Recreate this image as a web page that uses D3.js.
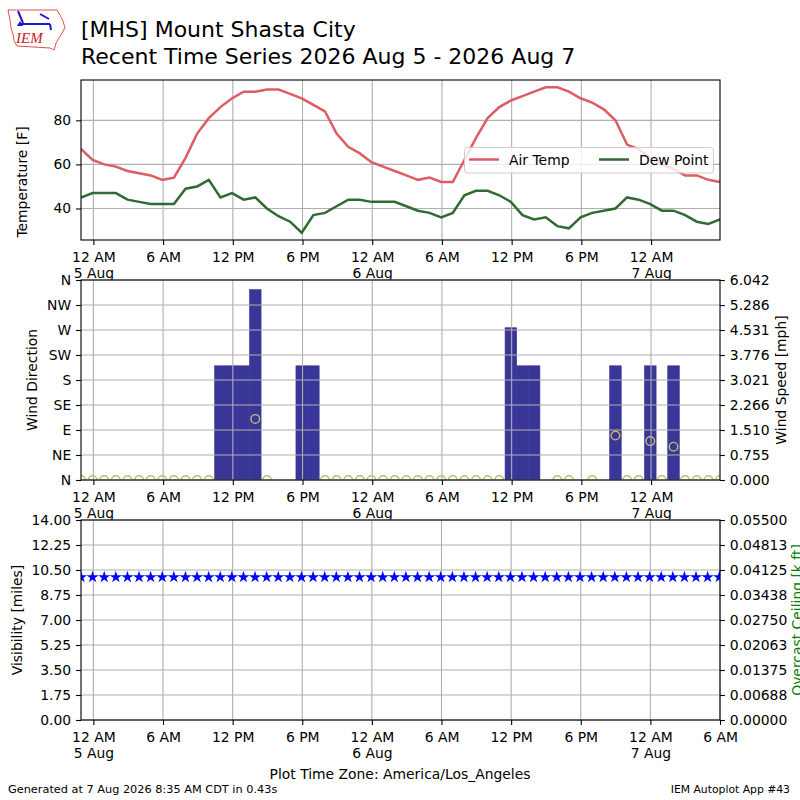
<!DOCTYPE html>
<html>
<head>
<meta charset="utf-8">
<script src="https://cdn.jsdelivr.net/npm/d3@7"></script>
<style>
body { margin: 0; background: #fff; }
svg { display: block; font-family: "DejaVu Sans", sans-serif; }
</style>
</head>
<body>
<div id="chart"></div>
<script>
(function() {
"use strict"

// hourly observations, local time (America/Los_Angeles)
var obsTimes = [
    "2026-08-04 22:56", "2026-08-04 23:56",
    "2026-08-05 00:56", "2026-08-05 01:56", "2026-08-05 02:56", "2026-08-05 03:56",
    "2026-08-05 04:56", "2026-08-05 05:56", "2026-08-05 06:56", "2026-08-05 07:56",
    "2026-08-05 08:56", "2026-08-05 09:56", "2026-08-05 10:56", "2026-08-05 11:56",
    "2026-08-05 12:56", "2026-08-05 13:56", "2026-08-05 14:56", "2026-08-05 15:56",
    "2026-08-05 16:56", "2026-08-05 17:56", "2026-08-05 18:56", "2026-08-05 19:56",
    "2026-08-05 20:56", "2026-08-05 21:56", "2026-08-05 22:56", "2026-08-05 23:56",
    "2026-08-06 00:56", "2026-08-06 01:56", "2026-08-06 02:56", "2026-08-06 03:56",
    "2026-08-06 04:56", "2026-08-06 05:56", "2026-08-06 06:56", "2026-08-06 07:56",
    "2026-08-06 08:56", "2026-08-06 09:56", "2026-08-06 10:56", "2026-08-06 11:56",
    "2026-08-06 12:56", "2026-08-06 13:56", "2026-08-06 14:56", "2026-08-06 15:56",
    "2026-08-06 16:56", "2026-08-06 17:56", "2026-08-06 18:56", "2026-08-06 19:56",
    "2026-08-06 20:56", "2026-08-06 21:56", "2026-08-06 22:56", "2026-08-06 23:56",
    "2026-08-07 00:56", "2026-08-07 01:56", "2026-08-07 02:56", "2026-08-07 03:56",
    "2026-08-07 04:56", "2026-08-07 05:56"
];
var airTemp = [67, 62, 60, 59, 57, 56, 55, 53, 54, 63, 74, 81, 86, 90, 93, 93,
    94, 94, 92, 90, 87, 84, 74, 68, 65, 61, 59, 57, 55, 53, 54, 52,
    52, 62, 72, 81, 86, 89, 91, 93, 95, 95, 93, 90, 88, 85, 80, 69,
    67, 63, 60, 58, 55, 55, 53, 52];
var dewPoint = [45, 47, 47, 47, 44, 43, 42, 42, 42, 49, 50, 53, 45, 47, 44, 45,
    40, 36.5, 34, 29, 37, 38, 41, 44, 44, 43, 43, 43, 41, 39, 38, 36,
    38, 46, 48, 48, 46, 43, 37, 35, 36, 32, 31, 36, 38, 39, 40, 45,
    44, 42, 39, 39, 37, 34, 33, 35];
// wind speed [mph], null = missing
var windSpeed = [0, 0, 0, 0, 0, 0, 0, 0, 0, 0, 0, 0, 3.45, 3.45, 3.45, 5.75,
    0, null, null, 3.45, 3.45, 0, 0, 0, 0, 0, 0, 0, 0, 0, 0, 0,
    0, 0, 0, 0, 0, 4.60, 3.45, 3.45, null, 0, 0, null, 0, null, 3.45, 0,
    0, 3.45, 0, 3.45, 0, 0, 0, 0];
// wind direction [deg], null = missing / variable
var windDir = [0, 0, 0, 0, 0, 0, 0, 0, 0, 0, 0, 0, null, null, null, 110,
    0, null, null, null, null, 0, 0, 0, 0, 0, 0, 0, 0, 0, 0, 0,
    0, 0, 0, 0, 0, null, null, null, null, 0, 0, null, 0, null, 80, 0,
    0, 70, 0, 60, 0, 0, 0, 0];
var visibility = [10, 10, 10, 10, 10, 10, 10, 10, 10, 10, 10, 10, 10, 10, 10, 10,
    10, 10, 10, 10, 10, 10, 10, 10, 10, 10, 10, 10, 10, 10, 10, 10,
    10, 10, 10, 10, 10, 10, 10, 10, 10, 10, 10, 10, 10, 10, 10, 10,
    10, 10, 10, 10, 10, 10, 10, 10];

var tempTicks = [40, 60, 80];
var dirTicks = [0, 45, 90, 135, 180, 225, 270, 315, 360];
var dirLabels = ["N", "NE", "E", "SE", "S", "SW", "W", "NW", "N"];
var speedTicks = [0, 0.755, 1.510, 2.266, 3.021, 3.776, 4.531, 5.286, 6.042];
var visTicks = [0, 1.75, 3.5, 5.25, 7, 8.75, 10.5, 12.25, 14];
var ceilTicks = [0, 0.006875, 0.01375, 0.020625, 0.0275, 0.034375, 0.04125, 0.048125, 0.055];
var ceilTickLabels = ["0.00000", "0.00688", "0.01375", "0.02063", "0.02750",
    "0.03438", "0.04125", "0.04813", "0.05500"];

var width = 800, height = 800;
var left = 81, right = 720;
var fontSize = 13.9;
var tickLen = 4.9;

var parse = d3.utcParse("%Y-%m-%d %H:%M");
var times = obsTimes.map(parse);

var svg = d3.select("#chart").append("svg")
    .attr("width", width)
    .attr("height", height);
svg.append("rect").attr("width", width).attr("height", height).attr("fill", "white");

// time scales (local time treated as UTC so the browser zone does not matter)
var x = d3.scaleUtc().domain(d3.extent(times)).range([left, right]);
var xBottom = d3.scaleUtc().domain([times[0], parse("2026-08-07 06:00")]).range([left, right]);

var styleAxis = function(ax) {
    ax.attr("font-family", "DejaVu Sans").attr("font-size", fontSize);
    ax.select(".domain").remove();
    ax.selectAll(".tick line").attr("stroke", "#000").attr("stroke-width", 1.1);
    ax.selectAll(".tick text").attr("fill", "#000");
};

var makePanel = function(id, top, bottom) {
    //white background and clip region
    var g = svg.append("g");
    g.append("rect")
        .attr("x", left).attr("y", top)
        .attr("width", right - left).attr("height", bottom - top)
        .attr("fill", "white");
    svg.append("clipPath").attr("id", id)
        .append("rect")
        .attr("x", left).attr("y", top)
        .attr("width", right - left).attr("height", bottom - top);
    return g;
};

var grid = function(g, xs, ys, ticks, top, bottom) {
    //vertical grid on the 6 hour ticks, horizontal on the y ticks
    g.append("g").selectAll("line")
        .data(xs.ticks(d3.utcHour.every(6)))
        .join("line")
        .attr("x1", function(d) { return xs(d); })
        .attr("x2", function(d) { return xs(d); })
        .attr("y1", top).attr("y2", bottom)
        .attr("stroke", "#b0b0b0").attr("stroke-width", 1.1);
    g.append("g").selectAll("line")
        .data(ticks)
        .join("line")
        .attr("x1", left).attr("x2", right)
        .attr("y1", function(d) { return ys(d); })
        .attr("y2", function(d) { return ys(d); })
        .attr("stroke", "#b0b0b0").attr("stroke-width", 1.1);
};

var xAxis = function(g, xs, y0) {
    var ax = g.append("g")
        .attr("transform", "translate(0," + y0 + ")")
        .call(d3.axisBottom(xs)
            .ticks(d3.utcHour.every(6))
            .tickSize(tickLen)
            .tickPadding(7)
            .tickFormat(d3.utcFormat("%-I %p")));
    styleAxis(ax);
    ax.selectAll(".tick text").each(function(d) {
        if (d.getUTCHours() === 0) {
            d3.select(this).append("tspan")
                .attr("x", 0)
                .attr("dy", "1.18em")
                .text(d3.utcFormat("%-d %b")(d));
        }
    });
};

var frame = function(g, top, bottom) {
    g.append("rect")
        .attr("x", left).attr("y", top)
        .attr("width", right - left).attr("height", bottom - top)
        .attr("fill", "none")
        .attr("stroke", "#000")
        .attr("stroke-width", 1.1);
};

var yLabel = function(txt, xpos, ypos, color) {
    svg.append("text")
        .attr("transform", "translate(" + xpos + "," + ypos + ") rotate(-90)")
        .attr("text-anchor", "middle")
        .attr("font-size", fontSize)
        .attr("fill", color || "#000")
        .text(txt);
};

// ---------- panel 1 : temperature ----------
var t1 = 80, b1 = 240;
var allT = airTemp.concat(dewPoint);
var tExt = d3.extent(allT);
var tPad = (tExt[1] - tExt[0]) * 0.05;
var yTemp = d3.scaleLinear().domain([tExt[0] - tPad, tExt[1] + tPad]).range([b1, t1]);

var p1 = makePanel("clip1", t1, b1);
grid(p1, x, yTemp, tempTicks, t1, b1);

var lineT = d3.line()
    .x(function(d, i) { return x(times[i]); })
    .y(function(d) { return yTemp(d); });
var lines = p1.append("g").attr("clip-path", "url(#clip1)");
lines.append("path").datum(airTemp)
    .attr("d", lineT)
    .attr("fill", "none")
    .attr("stroke", "#dc5d63")
    .attr("stroke-width", 2.5);
lines.append("path").datum(dewPoint)
    .attr("d", lineT)
    .attr("fill", "none")
    .attr("stroke", "#336933")
    .attr("stroke-width", 2.5);

var ay1 = p1.append("g").attr("transform", "translate(" + left + ",0)")
    .call(d3.axisLeft(yTemp).tickValues(tempTicks).tickSize(tickLen).tickPadding(4.9));
styleAxis(ay1);
xAxis(p1, x, b1);
frame(p1, t1, b1);

// legend
var lg = p1.append("g");
lg.append("rect")
    .attr("x", 464.5).attr("y", 147.5)
    .attr("width", 249).attr("height", 25.5)
    .attr("rx", 3)
    .attr("fill", "white").attr("fill-opacity", 0.8)
    .attr("stroke", "#cccccc");
var legendItems = [
    {name: "Air Temp", color: "#dc5d63", x0: 469},
    {name: "Dew Point", color: "#336933", x0: 599}
];
legendItems.forEach(function(it) {
    lg.append("line")
        .attr("x1", it.x0).attr("x2", it.x0 + 30)
        .attr("y1", 159.5).attr("y2", 159.5)
        .attr("stroke", it.color).attr("stroke-width", 2.5);
    lg.append("text")
        .attr("x", it.x0 + 40).attr("y", 164.5)
        .attr("font-size", fontSize)
        .text(it.name);
});

yLabel("Temperature [F]", 27, 182);

// ---------- panel 2 : wind ----------
var t2 = 280, b2 = 480;
var yDir = d3.scaleLinear().domain([0, 360]).range([b2, t2]);
var ySpeed = d3.scaleLinear().domain([0, speedTicks[speedTicks.length - 1]]).range([b2, t2]);

var p2 = makePanel("clip2", t2, b2);

// speed bars first, then the grid over them, then the direction circles
var halfHour = 30 * 60 * 1000;
p2.append("g").attr("clip-path", "url(#clip2)")
    .selectAll("rect")
    .data(windSpeed.map(function(v, i) { return {t: times[i], v: v}; })
        .filter(function(d) { return d.v !== null && d.v > 0; }))
    .join("rect")
    .attr("x", function(d) { return x(new Date(+d.t - halfHour)); })
    .attr("width", function(d) { return x(new Date(+d.t + halfHour)) - x(new Date(+d.t - halfHour)); })
    .attr("y", function(d) { return ySpeed(d.v); })
    .attr("height", function(d) { return b2 - ySpeed(d.v); })
    .attr("fill", "#3a3697")
    .attr("stroke", "#3a3697")
    .attr("stroke-width", 0.6);

grid(p2, x, yDir, dirTicks, t2, b2);

p2.append("g").attr("clip-path", "url(#clip2)")
    .selectAll("circle")
    .data(windDir.map(function(v, i) { return {t: times[i], v: v}; })
        .filter(function(d) { return d.v !== null; }))
    .join("circle")
    .attr("cx", function(d) { return x(d.t); })
    .attr("cy", function(d) { return yDir(d.v); })
    .attr("r", 4.3)
    .attr("fill", "none")
    .attr("stroke", "#c2bb6c")
    .attr("stroke-width", 1.4);

var ay2 = p2.append("g").attr("transform", "translate(" + left + ",0)")
    .call(d3.axisLeft(yDir).tickValues(dirTicks).tickSize(tickLen).tickPadding(4.9)
        .tickFormat(function(d, i) { return dirLabels[i]; }));
styleAxis(ay2);
var ay2r = p2.append("g").attr("transform", "translate(" + right + ",0)")
    .call(d3.axisRight(ySpeed).tickValues(speedTicks).tickSize(tickLen).tickPadding(4.9)
        .tickFormat(d3.format(".3f")));
styleAxis(ay2r);
xAxis(p2, x, b2);
frame(p2, t2, b2);

yLabel("Wind Direction", 37, 380);
yLabel("Wind Speed [mph]", 786, 380);

// ---------- panel 3 : visibility / ceiling ----------
var t3 = 520, b3 = 720;
var yVis = d3.scaleLinear().domain([0, 14]).range([b3, t3]);
var yCeil = d3.scaleLinear().domain([0, 0.055]).range([b3, t3]);

var p3 = makePanel("clip3", t3, b3);
grid(p3, xBottom, yVis, visTicks, t3, b3);

var star = d3.symbol().type(d3.symbolStar).size(46);
p3.append("g").attr("clip-path", "url(#clip3)")
    .selectAll("path")
    .data(visibility.map(function(v, i) { return {t: times[i], v: v}; }))
    .join("path")
    .attr("transform", function(d) { return "translate(" + xBottom(d.t) + "," + yVis(d.v) + ")"; })
    .attr("d", star)
    .attr("fill", "#0000ff");

var ay3 = p3.append("g").attr("transform", "translate(" + left + ",0)")
    .call(d3.axisLeft(yVis).tickValues(visTicks).tickSize(tickLen).tickPadding(4.9)
        .tickFormat(d3.format(".2f")));
styleAxis(ay3);
var ay3r = p3.append("g").attr("transform", "translate(" + right + ",0)")
    .call(d3.axisRight(yCeil).tickValues(ceilTicks).tickSize(tickLen).tickPadding(4.9)
        .tickFormat(function(d, i) { return ceilTickLabels[i]; }));
styleAxis(ay3r);
xAxis(p3, xBottom, b3);
frame(p3, t3, b3);

yLabel("Visibility [miles]", 22, 620);
yLabel("Overcast Ceiling [k ft]", 802, 620, "#008000");

// ---------- titles and footer ----------
svg.append("text")
    .attr("x", 81).attr("y", 36.5)
    .attr("font-size", 22)
    .text("[MHS] Mount Shasta City");
svg.append("text")
    .attr("x", 81).attr("y", 63.5)
    .attr("font-size", 22)
    .text("Recent Time Series 2026 Aug 5 - 2026 Aug 7");

svg.append("text")
    .attr("x", 400).attr("y", 779)
    .attr("text-anchor", "middle")
    .attr("font-size", fontSize)
    .text("Plot Time Zone: America/Los_Angeles");
svg.append("text")
    .attr("x", 8).attr("y", 793)
    .attr("font-size", 11.3)
    .text("Generated at 7 Aug 2026 8:35 AM CDT in 0.43s");
svg.append("text")
    .attr("x", 790).attr("y", 793)
    .attr("text-anchor", "end")
    .attr("font-size", 10.8)
    .text("IEM Autoplot App #43");

// IEM logo, rough sketch of the state outline
var logo = svg.append("g");
logo.append("path")
    .attr("d", "M8,10 L57,10 L60,15 L63,21 L65,28 L62,33 L59,38 L56,43 L55,47 L54,50 L50,48 L17,46 L14,41 L13,34 L11,28 L10,20 Z")
    .attr("fill", "none")
    .attr("stroke", "#d9534f")
    .attr("stroke-width", 1);
logo.append("path")
    .attr("d", "M21,24 L50,24 M18,11 L23,23 M40,14 L49,19 M50,24 L51,30")
    .attr("fill", "none")
    .attr("stroke", "#1a1acc")
    .attr("stroke-width", 2);
logo.append("path")
    .attr("d", "M17,26 L20,21 L23,26 Z")
    .attr("fill", "#1a1acc");
logo.append("text")
    .attr("x", 16).attr("y", 43)
    .attr("font-family", "Liberation Serif")
    .attr("font-style", "italic")
    .attr("font-size", 15)
    .attr("fill", "#cc2222")
    .text("IEM");

})();
</script>
</body>
</html>
